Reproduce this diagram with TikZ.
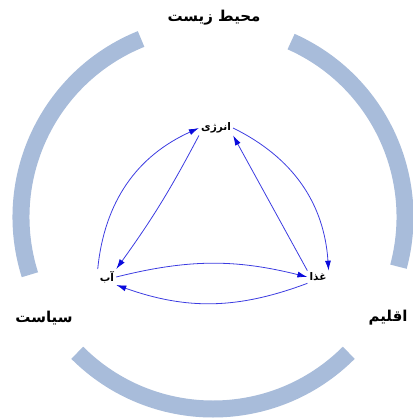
\documentclass[tikz,border=0pt]{standalone}
\usepackage{fontspec}
\usetikzlibrary{arrows.meta}
\TeXXeTstate=1
\newfontfamily\arabicfont[Script=Arabic]{DejaVu Sans}
\definecolor{ringcol}{RGB}{168,188,218}
\definecolor{arrcol}{RGB}{60,60,225}
\definecolor{tipcol}{RGB}{10,10,220}
\tikzset{
  ring/.style={draw=ringcol,line width=17},
  biglabel/.style={font=\arabicfont\bfseries\fontsize{15}{17}\selectfont,inner sep=1pt},
  smalllabel/.style={font=\arabicfont\bfseries\fontsize{10.5}{12}\selectfont,inner sep=2pt},
  arr/.style={draw=arrcol,line width=0.8pt,-{Latex[length=10pt,width=6pt,fill=tipcol,color=tipcol]}}
}
\begin{document}
\begin{tikzpicture}[x=1pt,y=1pt]
\useasboundingbox (0,0) rectangle (412,-420);
\coordinate (c) at (213,-217);
% ring segments
\draw[ring] (c) ++(112:192) arc[start angle=112,end angle=197.5,radius=192];
\draw[ring] (c) ++(225:192) arc[start angle=225,end angle=315,radius=192];
\draw[ring] (c) ++(-15:192) arc[start angle=-15,end angle=66,radius=192];
% outer labels
\node[biglabel] (env) at (214,-18) {\beginR محیط زیست\endR};
\node[biglabel] (pol) at (44,-318) {\beginR سیاست\endR};
\node[biglabel] (cli) at (388,-318) {\beginR اقلیم\endR};
% inner nodes
\node[smalllabel] (en) at (216,-128) {\beginR انرژی\endR};
\node[smalllabel] (ab) at (107,-277) {\beginR آب\endR};
\node[smalllabel] (gh) at (318,-277) {\beginR غذا\endR};
% connectors
\path[arr] (ab.north west) to[bend left=30] (en.west);
\path[arr] (en.south west) to[bend left=4] (ab.north east);
\path[arr] (en.east) to[bend left=30] (gh.north east);
\path[arr] (gh.north west) to (en.south east);
\path[arr] (ab.east) to[bend left=14] (gh.west);
\path[arr] (gh.south west) to[bend left=20] (ab.south east);
\end{tikzpicture}
\end{document}
